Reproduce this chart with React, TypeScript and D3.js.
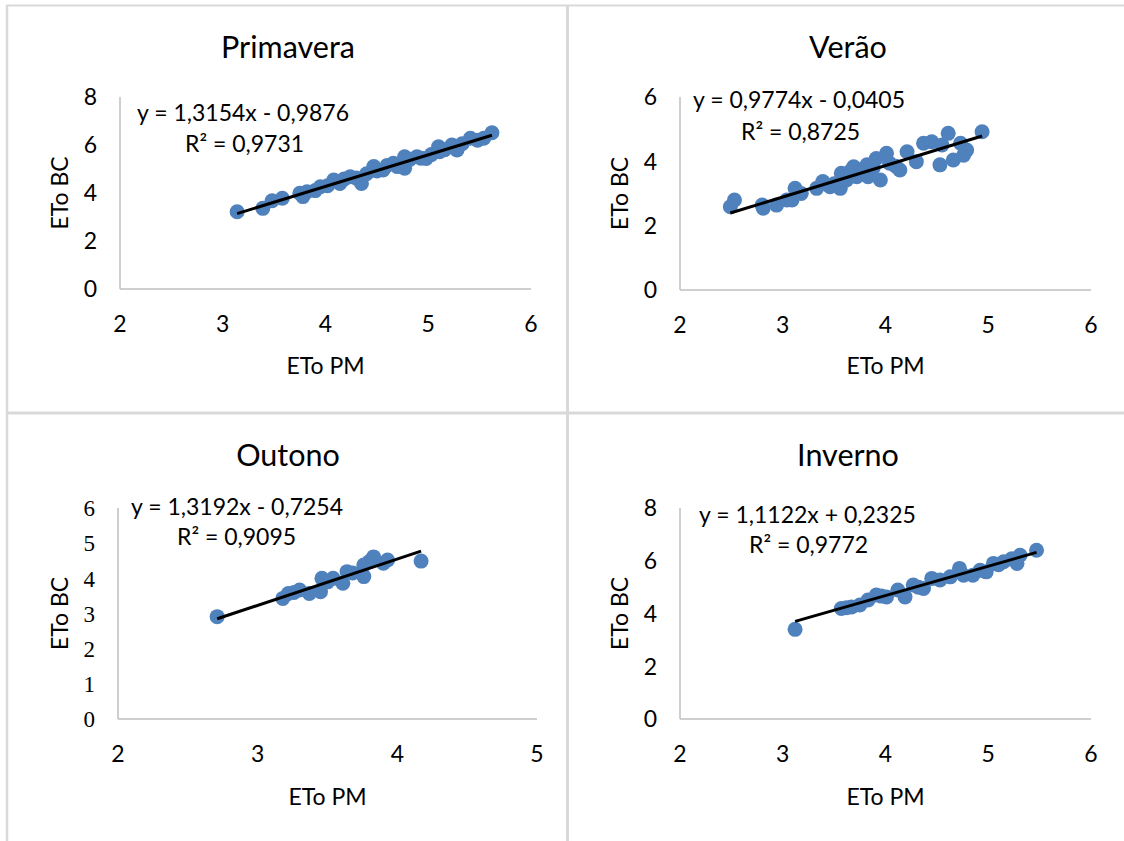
import React from "react";
import * as d3 from "d3";

// ---------- DATA ----------
const titles = ["Primavera", "Verão", "Outono", "Inverno"];
const equations = [
  "y = 1,3154x - 0,9876",
  "y = 0,9774x - 0,0405",
  "y = 1,3192x - 0,7254",
  "y = 1,1122x + 0,2325",
];
const r2Labels = ["R² = 0,9731", "R² = 0,8725", "R² = 0,9095", "R² = 0,9772"];
const slopes = [1.3154, 0.9774, 1.3192, 1.1122];
const intercepts = [-0.9876, -0.0405, -0.7254, 0.2325];

const xTicksList = [[2, 3, 4, 5, 6], [2, 3, 4, 5, 6], [2, 3, 4, 5], [2, 3, 4, 5, 6]];
const yTicksList = [[0, 2, 4, 6, 8], [0, 2, 4, 6], [0, 1, 2, 3, 4, 5, 6], [0, 2, 4, 6, 8]];

// Primavera
const primaveraX = [3.14, 3.39, 3.48, 3.58, 3.75, 3.78, 3.82, 3.90, 3.95, 4.02, 4.08, 4.14, 4.18, 4.24, 4.30, 4.35, 4.40, 4.47, 4.50, 4.56, 4.60, 4.66, 4.70, 4.77, 4.77, 4.82, 4.89, 4.93, 4.98, 5.03, 5.10, 5.11, 5.16, 5.23, 5.28, 5.33, 5.41, 5.48, 5.54, 5.62];
const primaveraY = [3.22, 3.36, 3.68, 3.78, 3.99, 3.85, 4.05, 4.10, 4.26, 4.30, 4.54, 4.40, 4.58, 4.68, 4.62, 4.40, 4.80, 5.10, 4.92, 4.96, 5.15, 5.24, 5.10, 5.51, 5.03, 5.40, 5.51, 5.45, 5.44, 5.60, 5.93, 5.72, 5.80, 6.00, 5.79, 6.05, 6.28, 6.20, 6.28, 6.51];

// Verão
const veraoX = [2.49, 2.53, 2.80, 2.81, 2.94, 3.04, 3.09, 3.12, 3.18, 3.33, 3.39, 3.46, 3.50, 3.56, 3.57, 3.62, 3.66, 3.69, 3.72, 3.78, 3.82, 3.83, 3.88, 3.91, 3.95, 4.01, 4.04, 4.10, 4.14, 4.21, 4.30, 4.37, 4.45, 4.53, 4.55, 4.61, 4.66, 4.73, 4.76, 4.79, 4.94];
const veraoY = [2.59, 2.80, 2.64, 2.54, 2.64, 2.80, 2.80, 3.16, 3.00, 3.16, 3.37, 3.21, 3.30, 3.16, 3.63, 3.42, 3.70, 3.83, 3.52, 3.75, 3.89, 3.52, 3.80, 4.09, 3.42, 4.25, 3.94, 3.85, 3.73, 4.30, 3.99, 4.56, 4.61, 3.89, 4.51, 4.87, 4.04, 4.56, 4.19, 4.35, 4.92];

// Outono
const outonoX = [2.71, 3.18, 3.22, 3.26, 3.30, 3.37, 3.45, 3.46, 3.50, 3.54, 3.61, 3.64, 3.68, 3.76, 3.76, 3.80, 3.83, 3.90, 3.93, 4.17];
const outonoY = [2.91, 3.43, 3.57, 3.60, 3.67, 3.57, 3.62, 4.00, 3.90, 4.00, 3.86, 4.19, 4.15, 4.05, 4.38, 4.48, 4.61, 4.43, 4.52, 4.49];

// Inverno
const invernoX = [3.12, 3.57, 3.62, 3.67, 3.75, 3.83, 3.91, 3.96, 4.01, 4.12, 4.19, 4.27, 4.32, 4.37, 4.45, 4.53, 4.63, 4.72, 4.76, 4.85, 4.92, 4.98, 5.05, 5.10, 5.15, 5.23, 5.28, 5.31, 5.47];
const invernoY = [3.40, 4.19, 4.22, 4.25, 4.32, 4.51, 4.70, 4.66, 4.63, 4.89, 4.63, 5.08, 5.00, 4.95, 5.33, 5.27, 5.39, 5.71, 5.45, 5.45, 5.64, 5.58, 5.90, 5.85, 5.96, 6.08, 5.90, 6.21, 6.40];

const seriesX = [primaveraX, veraoX, outonoX, invernoX];
const seriesY = [primaveraY, veraoY, outonoY, invernoY];

// ---------- LAYOUT ----------
const W = 1124;
const H = 841;
const FONT = "Lato, 'Open Sans', sans-serif";
const SERIF = "'Liberation Serif', 'DejaVu Serif', serif";
const BLUE = "#4f81bd";
const BORDER = "#d9d9d9";
const TXT = 23;

type Layout = {
  x0: number; x1: number; y0: number; y1: number;
  cx: number; titleY: number; xTitleY: number; yTitleX: number;
  eqX: number; eqY: number; r2X: number; r2Y: number; serifY: boolean;
};

const layouts: Layout[] = [
  { x0: 120, x1: 531, y0: 289, y1: 97, cx: 288, titleY: 58, xTitleY: 374, yTitleX: 68, eqX: 137, eqY: 121, r2X: 185, r2Y: 152, serifY: false },
  { x0: 680, x1: 1091, y0: 290, y1: 97, cx: 848, titleY: 58, xTitleY: 374, yTitleX: 628, eqX: 693, eqY: 108, r2X: 741, r2Y: 140, serifY: false },
  { x0: 118, x1: 537, y0: 719, y1: 508, cx: 288, titleY: 466, xTitleY: 805, yTitleX: 68, eqX: 131, eqY: 515, r2X: 177, r2Y: 545, serifY: true },
  { x0: 680, x1: 1091, y0: 719, y1: 508, cx: 848, titleY: 466, xTitleY: 805, yTitleX: 628, eqX: 699, eqY: 523, r2X: 749, r2Y: 553, serifY: false },
];

function Panel({ i }: { i: number }) {
  const L = layouts[i];
  const xt = xTicksList[i];
  const yt = yTicksList[i];
  const x = d3.scaleLinear().domain([xt[0], xt[xt.length - 1]]).range([L.x0, L.x1]);
  const y = d3.scaleLinear().domain([yt[0], yt[yt.length - 1]]).range([L.y0, L.y1]);
  const xs = seriesX[i];
  const ys = seriesY[i];
  const pts = xs.map((v, k) => [v, ys[k]] as [number, number]);
  const [minX, maxX] = d3.extent(xs) as [number, number];
  const line = d3.line<number>().x((v) => x(v)).y((v) => y(slopes[i] * v + intercepts[i]));
  return (
    <g>
      <text x={L.cx} y={L.titleY} textAnchor="middle" fontFamily={FONT} fontSize={30.5} fill="#000">{titles[i]}</text>
      {/* axes */}
      <line x1={L.x0} x2={L.x0} y1={L.y1} y2={L.y0} stroke="#bfbfbf" strokeWidth={1.5} />
      <line x1={L.x0} x2={L.x1} y1={L.y0} y2={L.y0} stroke="#bfbfbf" strokeWidth={1.5} />
      {yt.map((t) => (
        <text key={"y" + t} x={L.x0 - 23} y={y(t)} dy="0.36em" textAnchor="end"
          fontFamily={L.serifY ? SERIF : FONT} fontSize={L.serifY ? 23 : TXT} fill="#000">{t}</text>
      ))}
      {xt.map((t) => (
        <text key={"x" + t} x={x(t)} y={L.y0 + 43} textAnchor="middle" fontFamily={FONT} fontSize={TXT} fill="#000">{t}</text>
      ))}
      <text x={(L.x0 + L.x1) / 2} y={L.xTitleY} textAnchor="middle" fontFamily={FONT} fontSize={TXT} fill="#000">ETo PM</text>
      <text transform={`translate(${L.yTitleX},${(L.y0 + L.y1) / 2}) rotate(-90)`} textAnchor="middle"
        fontFamily={FONT} fontSize={TXT} fill="#000">ETo BC</text>
      {/* points */}
      {pts.map((p, k) => (
        <circle key={k} cx={x(p[0])} cy={y(p[1])} r={7.5} fill={BLUE} />
      ))}
      {/* trendline */}
      <path d={line([minX, maxX]) || ""} stroke="#000" strokeWidth={3} fill="none" />
      <text x={L.eqX} y={L.eqY} fontFamily={FONT} fontSize={TXT} fill="#000">{equations[i]}</text>
      <text x={L.r2X} y={L.r2Y} fontFamily={FONT} fontSize={TXT} fill="#000">{r2Labels[i]}</text>
    </g>
  );
}

export default function App() {
  return (
    <svg width={W} height={H} style={{ position: "absolute", left: 0, top: 0, background: "#fff" }}>
      <rect x={0} y={0} width={W} height={H} fill="#fff" />
      <line x1={6} x2={W} y1={5.5} y2={5.5} stroke={BORDER} strokeWidth={2} />
      <line x1={7} x2={7} y1={5} y2={H} stroke={BORDER} strokeWidth={2.5} />
      <line x1={7} x2={W} y1={413} y2={413} stroke={BORDER} strokeWidth={3} />
      <line x1={567.5} x2={567.5} y1={5} y2={H} stroke={BORDER} strokeWidth={3} />
      {titles.map((_, i) => <Panel key={i} i={i} />)}
    </svg>
  );
}
